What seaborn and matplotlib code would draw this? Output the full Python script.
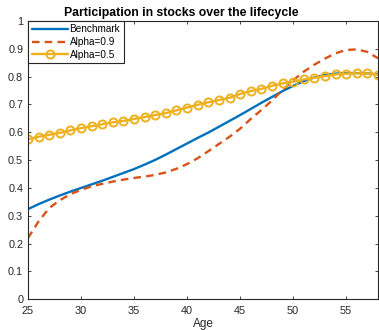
import numpy as np
import pandas as pd
import matplotlib
matplotlib.use("Agg")
import matplotlib.pyplot as plt
import seaborn as sns

# Age grid (one point per year)
ages = list(range(25, 59))

# Stock market participation rate by age
benchmark = [0.324, 0.342, 0.358, 0.373, 0.387, 0.400, 0.413, 0.426, 0.440, 0.454,
             0.468, 0.484, 0.501, 0.520, 0.540, 0.560, 0.580, 0.599, 0.620, 0.641,
             0.662, 0.684, 0.706, 0.727, 0.748, 0.767, 0.784, 0.797, 0.806, 0.811,
             0.813, 0.813, 0.812, 0.808]
alpha_09 = [0.220, 0.280, 0.328, 0.356, 0.378, 0.393, 0.406, 0.415, 0.423, 0.430,
            0.436, 0.441, 0.447, 0.456, 0.469, 0.486, 0.507, 0.532, 0.558, 0.584,
            0.613, 0.648, 0.680, 0.714, 0.752, 0.787, 0.818, 0.843, 0.865, 0.884,
            0.896, 0.898, 0.889, 0.866]
alpha_05 = [0.575, 0.584, 0.591, 0.598, 0.607, 0.615, 0.622, 0.629, 0.636, 0.641,
            0.648, 0.655, 0.662, 0.669, 0.679, 0.689, 0.699, 0.708, 0.716, 0.724,
            0.738, 0.748, 0.756, 0.767, 0.776, 0.782, 0.790, 0.796, 0.802, 0.808,
            0.811, 0.812, 0.812, 0.807]

series_names = ["Benchmark", "Alpha=0.9", "Alpha=0.5"]
x_ticks = [25, 30, 35, 40, 45, 50, 55]
y_ticks = [0, 0.1, 0.2, 0.3, 0.4, 0.5, 0.6, 0.7, 0.8, 0.9, 1]

sns.set_theme(style="white")
plt.rcParams["font.family"] = ["Liberation Sans", "DejaVu Sans"]

ink = "#262626"
c_blue = "#0072BD"
c_orange = "#D95319"
c_yellow = "#EDB120"

fig = plt.figure(figsize=(3.79, 3.30), dpi=100)
ax = fig.add_axes([28 / 379, 1 - 299.3 / 330, 350 / 379, 278.3 / 330])

df = pd.DataFrame({"Age": ages, "Benchmark": benchmark,
                   "Alpha=0.9": alpha_09, "Alpha=0.5": alpha_05})

sns.lineplot(data=df, x="Age", y="Benchmark", ax=ax, color=c_blue,
             linewidth=1.7, label=series_names[0])
sns.lineplot(data=df, x="Age", y="Alpha=0.9", ax=ax, color=c_orange,
             linewidth=1.7, label=series_names[1])
ax.lines[-1].set_dashes((3.2, 2.2))
sns.lineplot(data=df, x="Age", y="Alpha=0.5", ax=ax, color=c_yellow,
             linewidth=1.7, marker="o", markersize=5.8,
             markerfacecolor="none", markeredgecolor=c_yellow,
             markeredgewidth=1.4, label=series_names[2])

ax.set_xlim(25, 58)
ax.set_ylim(0, 1)
ax.set_xticks(x_ticks)
ax.set_xticklabels([str(t) for t in x_ticks])
ax.set_yticks(y_ticks)
ax.set_yticklabels(["0" if t == 0 else ("1" if t == 1 else f"{t:.1f}") for t in y_ticks])

for side in ["left", "right", "top", "bottom"]:
    ax.spines[side].set_visible(True)
    ax.spines[side].set_color(ink)
    ax.spines[side].set_linewidth(0.8)

ax.tick_params(axis="both", which="major", direction="in", length=2.4, width=0.6,
               colors=ink, labelsize=7.8, top=True, right=True,
               bottom=True, left=True)
ax.tick_params(axis="x", pad=4.5)
ax.tick_params(axis="y", pad=3.5)

ax.set_xlabel("Age", fontsize=8.5, color=ink, labelpad=1.8)
ax.set_ylabel("")
ax.set_title("Participation in stocks over the lifecycle", fontsize=8.8,
             fontweight="bold", color="black", pad=3.5, x=0.437)

leg = ax.legend(loc="upper left", bbox_to_anchor=(0, 1), borderaxespad=0,
                fontsize=7.2, frameon=True, fancybox=False, handlelength=3.6,
                handletextpad=0.2, labelspacing=0.25, borderpad=0.35)
leg.get_frame().set_edgecolor(ink)
leg.get_frame().set_linewidth(0.8)
leg.get_frame().set_facecolor("white")
leg.get_frame().set_alpha(1)
for t in leg.get_texts():
    t.set_color("black")

fig.savefig("out.png", dpi=100)
